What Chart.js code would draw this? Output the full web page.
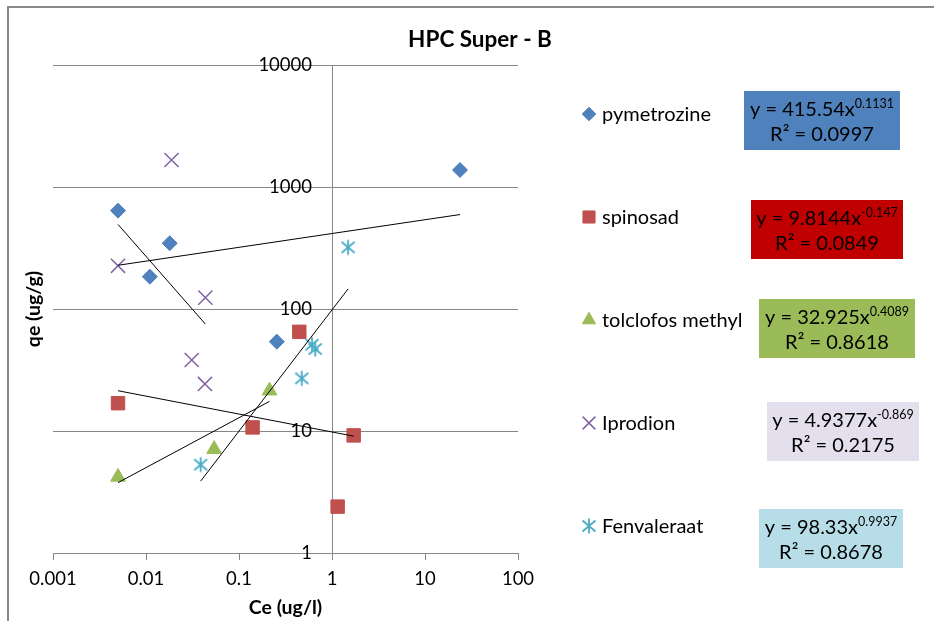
<!DOCTYPE html>
<html>
<head>
<meta charset="utf-8">
<title>HPC Super - B</title>
<script src="https://cdn.jsdelivr.net/npm/chart.js@4/dist/chart.umd.min.js"></script>
<style>
  html, body { margin: 0; padding: 0; background: #ffffff; }
  canvas { display: block; }
</style>
</head>
<body>
<canvas id="chart" width="934" height="621"></canvas>
<script>
// ---- texts and axis ticks ----
const TITLE = 'HPC Super - B';
const X_TITLE = 'Ce (ug/l)';
const Y_TITLE = 'qe (ug/g)';
const X_TICKS = [0.001, 0.01, 0.1, 1, 10, 100];
const X_TICK_LABELS = ['0.001', '0.01', '0.1', '1', '10', '100'];
const Y_TICKS = [1, 10, 100, 1000, 10000];
const Y_TICK_LABELS = ['1', '10', '100', '1000', '10000'];
const Y_AXIS_CROSSES_AT = 1;      // vertical axis line sits at Ce = 1
const Y_LABELS_AT = 0.61;         // its labels end a little to the left of that line

// ---- measured points: Ce (ug/l) against qe (ug/g) ----
const SERIES_NAMES = ['pymetrozine', 'spinosad', 'tolclofos methyl', 'Iprodion', 'Fenvaleraat'];
const PYMETROZINE_CE = [0.005, 0.011, 0.018, 0.255, 23.8];
const PYMETROZINE_QE = [640, 184, 346, 54, 1378];
const SPINOSAD_CE = [0.005, 0.14, 0.445, 1.15, 1.71];
const SPINOSAD_QE = [16.9, 10.7, 65, 2.4, 9.2];
const TOLCLOFOS_CE = [0.005, 0.054, 0.213];
const TOLCLOFOS_QE = [4.2, 7.1, 21.4];
const IPRODION_CE = [0.005, 0.0188, 0.031, 0.043, 0.0435];
const IPRODION_QE = [226, 1664, 38.2, 24.3, 124];
const FENVALERAAT_CE = [0.0387, 0.473, 0.61, 0.66, 1.49];
const FENVALERAAT_QE = [5.3, 27, 51, 47, 320];

// ---- power-law fits y = a * x^b and their R² ----
const FIT_A = ['415.54', '9.8144', '32.925', '4.9377', '98.33'];
const FIT_B = ['0.1131', '-0.147', '0.4089', '-0.869', '0.9937'];
const FIT_R2 = ['0.0997', '0.0849', '0.8618', '0.2175', '0.8678'];

// ---- styling ----
const FONT = 'Lato';
const GRID = '#878787';
const COLORS = ['#4F81BD', '#C0504D', '#9BBB59', '#8064A2', '#4BACC6'];
const BOX_COLORS = ['#4F81BD', '#C00000', '#9BBB59', '#E4DFEC', '#B7DEE8'];
const BOX_LEFT = [744, 751, 759, 767, 759];
const BOX_TOP = [91, 200, 299, 402, 509];
const BOX_WIDTH = [156, 152, 156, 152, 144];
const BOX_HEIGHT = 59;
const LEGEND_MARK_X = 589;
const LEGEND_TEXT_X = 602;
const LEGEND_FIRST_Y = 114;
const LEGEND_STEP = 103;

// asterisk marker: one vertical stroke and two diagonals
function asteriskMarker(color) {
  const c = document.createElement('canvas');
  c.width = 18; c.height = 18;
  const g = c.getContext('2d');
  g.strokeStyle = color;
  g.lineWidth = 1.8;
  g.beginPath();
  g.moveTo(9, 1.5); g.lineTo(9, 16.5);
  g.moveTo(2.5, 3.5); g.lineTo(15.5, 14.5);
  g.moveTo(15.5, 3.5); g.lineTo(2.5, 14.5);
  g.stroke();
  return c;
}

const MARKERS = [
  { pointStyle: 'rectRot', radius: 7.5, borderWidth: 1 },
  { pointStyle: 'rect', radius: 9.5, borderWidth: 1 },
  { pointStyle: 'triangle', radius: 8.5, borderWidth: 1 },
  { pointStyle: 'crossRot', radius: 10, borderWidth: 1.5 },
  { pointStyle: asteriskMarker(COLORS[4]), radius: 9, borderWidth: 0 }
];

const SERIES = [
  [PYMETROZINE_CE, PYMETROZINE_QE],
  [SPINOSAD_CE, SPINOSAD_QE],
  [TOLCLOFOS_CE, TOLCLOFOS_QE],
  [IPRODION_CE, IPRODION_QE],
  [FENVALERAAT_CE, FENVALERAAT_QE]
];

const toPoints = (xs, ys) => xs.map((x, i) => ({ x: x, y: ys[i] }));

// fitted line between the smallest and largest Ce of each series
function fitLine(k) {
  const xs = SERIES[k][0];
  const a = parseFloat(FIT_A[k]), b = parseFloat(FIT_B[k]);
  const lo = Math.min(...xs), hi = Math.max(...xs);
  return [{ x: lo, y: a * Math.pow(lo, b) }, { x: hi, y: a * Math.pow(hi, b) }];
}

const datasets = [];
SERIES.forEach((s, k) => {
  datasets.push({
    label: SERIES_NAMES[k],
    data: toPoints(s[0], s[1]),
    backgroundColor: COLORS[k],
    borderColor: COLORS[k],
    pointStyle: MARKERS[k].pointStyle,
    pointRadius: MARKERS[k].radius,
    pointBorderWidth: MARKERS[k].borderWidth,
    showLine: false,
    order: 2
  });
});
SERIES.forEach((s, k) => {
  datasets.push({
    label: SERIES_NAMES[k] + ' fit',
    data: fitLine(k),
    showLine: true,
    borderColor: '#000000',
    borderWidth: 1,
    pointRadius: 0,
    fill: false,
    order: 1
  });
});

function drawEquation(ctx, main, sup, cx, baseline) {
  const mainFont = '20px ' + FONT;
  const supFont = '12.5px ' + FONT;
  ctx.font = mainFont;
  const w1 = ctx.measureText(main).width;
  ctx.font = supFont;
  const w2 = sup ? ctx.measureText(sup).width : 0;
  const x0 = cx - (w1 + w2) / 2;
  ctx.font = mainFont;
  ctx.fillText(main, x0, baseline);
  if (sup) {
    ctx.font = supFont;
    ctx.fillText(sup, x0 + w1, baseline - 8);
  }
}

const decorations = {
  id: 'decorations',
  beforeDraw(chart) {
    const ctx = chart.ctx;
    ctx.save();
    ctx.fillStyle = '#ffffff';
    ctx.fillRect(0, 0, chart.width, chart.height);
    // outer frame (left and top edges)
    ctx.fillStyle = '#8a8a8a';
    ctx.fillRect(7, 6, 2, chart.height - 6);
    ctx.fillRect(7, 6, chart.width - 7, 2);
    ctx.restore();
  },
  afterDraw(chart) {
    const ctx = chart.ctx;
    ctx.save();
    ctx.fillStyle = '#000000';
    ctx.textBaseline = 'alphabetic';

    // chart title
    ctx.font = 'bold 22.5px ' + FONT;
    ctx.textAlign = 'center';
    ctx.fillText(TITLE, 480, 47);

    // vertical axis title
    ctx.save();
    ctx.translate(34, 309);
    ctx.rotate(-Math.PI / 2);
    ctx.font = 'bold 19.5px ' + FONT;
    ctx.textAlign = 'center';
    ctx.textBaseline = 'middle';
    ctx.fillText(Y_TITLE, 0, 0);
    ctx.restore();

    // legend entries with their equation boxes
    SERIES_NAMES.forEach((name, k) => {
      const y = LEGEND_FIRST_Y + k * LEGEND_STEP;
      const m = MARKERS[k];
      ctx.save();
      ctx.fillStyle = COLORS[k];
      ctx.strokeStyle = COLORS[k];
      ctx.lineWidth = m.borderWidth;
      Chart.helpers.drawPoint(ctx, {
        pointStyle: m.pointStyle, radius: m.radius * 0.9, rotation: 0, borderWidth: m.borderWidth
      }, LEGEND_MARK_X, y);
      ctx.restore();

      ctx.fillStyle = '#000000';
      ctx.font = '20px ' + FONT;
      ctx.textAlign = 'left';
      ctx.fillText(name, LEGEND_TEXT_X, y + 7);

      const bx = BOX_LEFT[k], by = BOX_TOP[k], bw = BOX_WIDTH[k];
      ctx.fillStyle = BOX_COLORS[k];
      ctx.fillRect(bx, by, bw, BOX_HEIGHT);
      ctx.fillStyle = '#000000';
      const cx = bx + bw / 2;
      drawEquation(ctx, 'y = ' + FIT_A[k] + 'x', FIT_B[k], cx, by + 24.5);
      drawEquation(ctx, 'R² = ' + FIT_R2[k], '', cx, by + 50);
    });
    ctx.restore();
  }
};

new Chart(document.getElementById('chart'), {
  type: 'scatter',
  data: { datasets: datasets },
  options: {
    responsive: false,
    animation: false,
    events: [],
    layout: { padding: { left: 53, right: 416, top: 65, bottom: 0 } },
    plugins: {
      legend: { display: false },
      tooltip: { enabled: false },
      title: { display: false }
    },
    scales: {
      x: {
        type: 'logarithmic',
        position: 'bottom',
        min: 0.001,
        max: 100,
        afterBuildTicks: (scale) => { scale.ticks = X_TICKS.map(v => ({ value: v })); },
        afterFit: (scale) => { scale.height = 68; },
        grid: {
          drawOnChartArea: true,
          drawTicks: true,
          tickLength: 7,
          lineWidth: 1,
          tickColor: GRID,
          // only the line where the vertical axis crosses is drawn inside the plot
          color: (ctx) => (ctx.tick && ctx.tick.value === Y_AXIS_CROSSES_AT) ? GRID : 'rgba(0,0,0,0)'
        },
        border: { display: true, color: GRID, width: 1 },
        ticks: {
          autoSkip: false,
          maxRotation: 0,
          padding: 8,
          color: '#000000',
          font: { family: FONT, size: 18.5 },
          callback: (value, index) => X_TICK_LABELS[index]
        },
        title: {
          display: true,
          text: X_TITLE,
          color: '#000000',
          font: { family: FONT, size: 19.5, weight: 'bold' },
          padding: { top: 0, bottom: 2 }
        }
      },
      y: {
        type: 'logarithmic',
        position: { x: Y_LABELS_AT },
        min: 1,
        max: 10000,
        afterBuildTicks: (scale) => { scale.ticks = Y_TICKS.map(v => ({ value: v })); },
        grid: { drawOnChartArea: true, drawTicks: false, color: GRID, lineWidth: 1 },
        border: { display: false },
        ticks: {
          color: '#000000',
          font: { family: FONT, size: 18.5 },
          callback: (value, index) => Y_TICK_LABELS[index]
        }
      }
    }
  },
  plugins: [decorations]
});
</script>
</body>
</html>
